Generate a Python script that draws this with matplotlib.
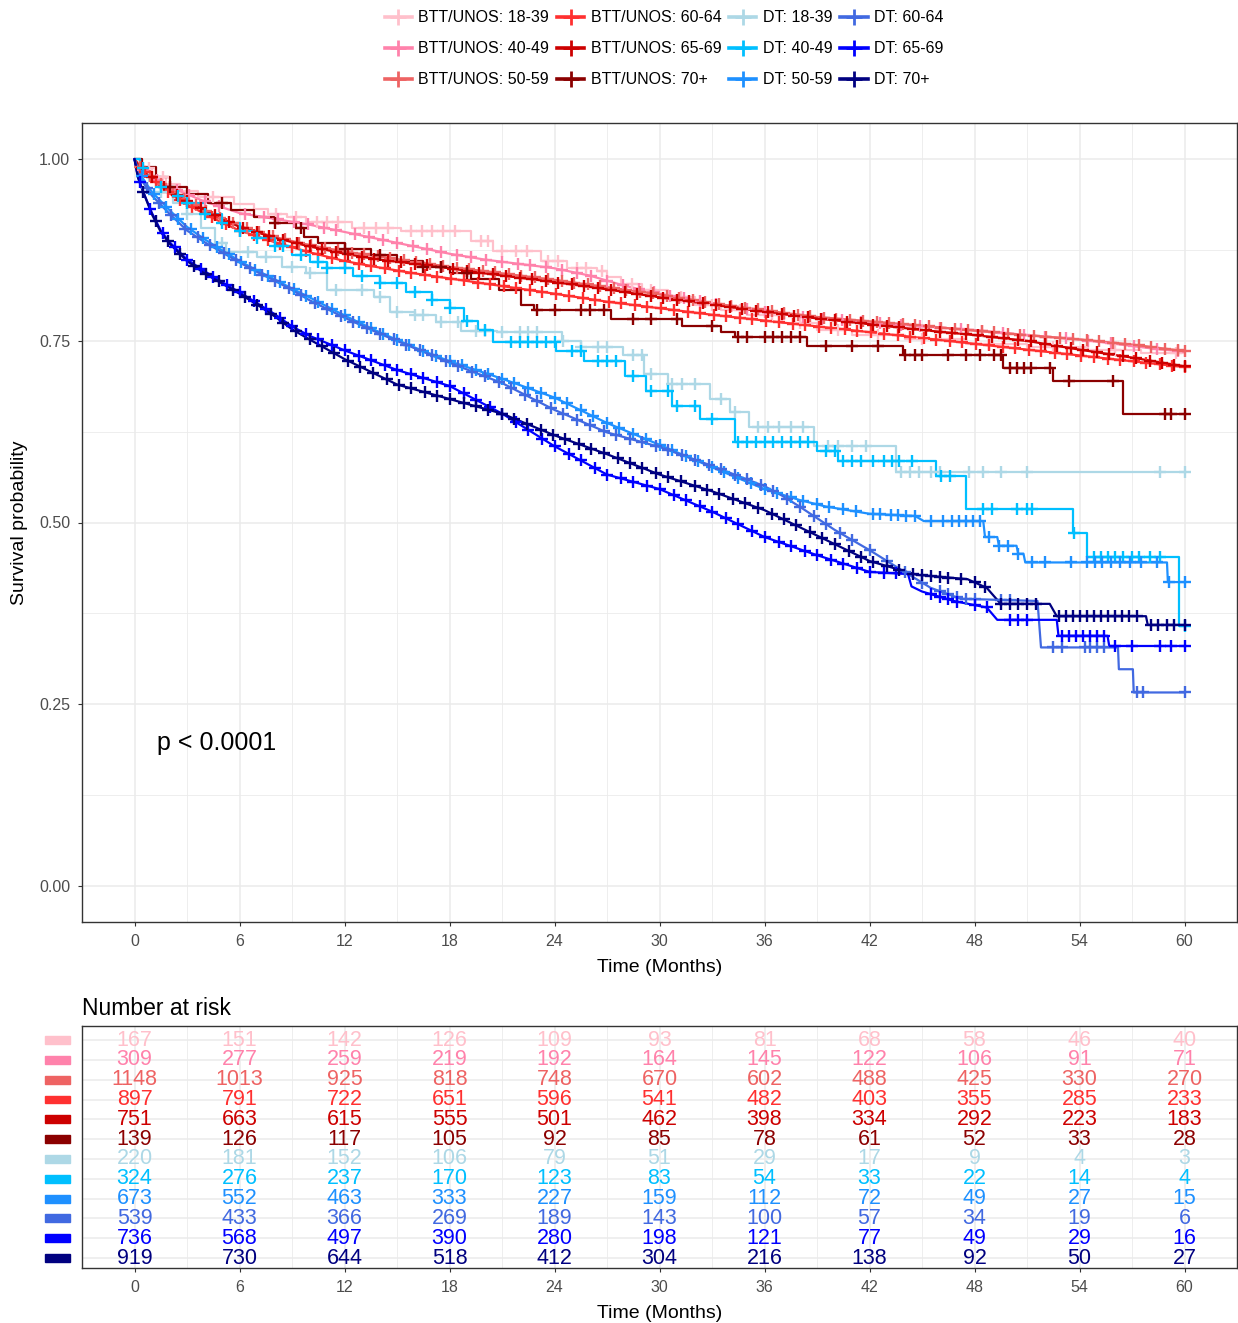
import numpy as np
import matplotlib
matplotlib.use("Agg")
import matplotlib.pyplot as plt
from matplotlib.lines import Line2D
from matplotlib.patches import Rectangle
import matplotlib.transforms as mtransforms

plt.rcParams['font.family'] = ['Liberation Sans', 'DejaVu Sans']

# ---- groups ----
groups = ["BTT/UNOS: 18-39", "BTT/UNOS: 40-49", "BTT/UNOS: 50-59",
          "BTT/UNOS: 60-64", "BTT/UNOS: 65-69", "BTT/UNOS: 70+",
          "DT: 18-39", "DT: 40-49", "DT: 50-59", "DT: 60-64", "DT: 65-69", "DT: 70+"]
colors = ["#FFC0CB", "#FF82AB", "#EE6363", "#FF3030", "#CD0000", "#8B0000",
          "#ADD8E6", "#00BFFF", "#1E90FF", "#4169E1", "#0000FF", "#000080"]
# small groups are drawn as steps, big groups as dense curves
as_steps = [True, False, False, False, False, True, True, True, False, False, False, False]

# ---- survival curves (months, probability) ----
t_btt_1839 = [0, 0.4, 1.0, 1.8, 2.6, 3.6, 5.7, 6.8, 7.6, 8.7, 9.8, 12.4, 15.2, 19.2, 20.5, 23.2, 24.7,
              26.4, 27.0, 27.8, 29.0, 30.5, 32.0, 33.5, 35.0, 37.0, 39.0, 41.0, 44.0, 47.5, 51.0, 54.5, 57.5, 60.0]
s_btt_1839 = [1.0, 0.988, 0.976, 0.966, 0.957, 0.948, 0.939, 0.932, 0.925, 0.921, 0.914, 0.905, 0.902, 0.888,
              0.874, 0.860, 0.850, 0.846, 0.838, 0.828, 0.820, 0.810, 0.800, 0.792, 0.785, 0.775, 0.765, 0.758,
              0.752, 0.746, 0.741, 0.737, 0.733, 0.730]

t_btt_4049 = [0, 0.5, 1, 2, 3, 4, 5, 6, 8, 10, 12, 14, 16, 18, 20, 22, 24, 26, 28, 30, 33, 36, 39, 42, 45,
              48, 51, 54, 56, 58, 60]
s_btt_4049 = [1, 0.985, 0.975, 0.962, 0.952, 0.942, 0.934, 0.926, 0.918, 0.91, 0.9, 0.89, 0.88, 0.87, 0.862,
              0.856, 0.85, 0.84, 0.826, 0.815, 0.802, 0.79, 0.781, 0.775, 0.77, 0.765, 0.758, 0.752, 0.746,
              0.74, 0.735]

t_btt_big = [0, 0.3, 1, 2, 3, 4, 5, 6, 8, 10, 12, 14, 16, 18, 20, 22, 24, 27, 30, 33, 36, 39, 42, 45, 48,
             51, 54, 57, 60]
s_btt_5059 = [1, 0.99, 0.975, 0.958, 0.943, 0.93, 0.918, 0.908, 0.893, 0.882, 0.873, 0.866, 0.859, 0.852,
              0.846, 0.84, 0.834, 0.824, 0.814, 0.802, 0.792, 0.783, 0.777, 0.771, 0.764, 0.758, 0.752, 0.745, 0.736]
s_btt_6064 = [1, 0.99, 0.972, 0.953, 0.938, 0.925, 0.913, 0.902, 0.886, 0.872, 0.86, 0.851, 0.843, 0.836,
              0.829, 0.822, 0.815, 0.804, 0.795, 0.786, 0.778, 0.77, 0.762, 0.754, 0.746, 0.738, 0.73, 0.722, 0.714]
s_btt_6569 = [1, 0.99, 0.975, 0.957, 0.942, 0.93, 0.918, 0.907, 0.892, 0.88, 0.87, 0.862, 0.856, 0.85,
              0.843, 0.837, 0.831, 0.821, 0.81, 0.8, 0.79, 0.781, 0.773, 0.765, 0.758, 0.75, 0.738, 0.727, 0.715]

t_btt_70 = [0, 0.4, 1.2, 2.0, 3.0, 4.2, 5.5, 6.8, 8.0, 9.2, 9.7, 10.5, 12.0, 13.5, 15.0, 16.5, 18.0, 19.2,
            20.8, 22.1, 22.8, 27.2, 31.3, 33.5, 34.3, 38.4, 43.9, 49.6, 52.5, 56.5, 60.0]
s_btt_70 = [1, 0.99, 0.975, 0.962, 0.952, 0.94, 0.93, 0.92, 0.912, 0.905, 0.893, 0.885, 0.877, 0.868, 0.86,
            0.852, 0.843, 0.835, 0.82, 0.80, 0.792, 0.78, 0.771, 0.762, 0.755, 0.743, 0.73, 0.713, 0.695,
            0.649, 0.649]

t_dt_1839 = [0, 0.3, 0.8, 1.5, 2.2, 3.0, 3.8, 4.6, 5.2, 7.0, 8.4, 9.8, 11.0, 13.7, 14.6, 16.0, 17.2, 18.65,
             20.7, 24.4, 25.5, 27.9, 29.1, 30.5, 32.9, 34.05, 35.1, 38.8, 43.5, 60.0]
s_dt_1839 = [1, 0.985, 0.97, 0.955, 0.94, 0.925, 0.905, 0.885, 0.872, 0.866, 0.852, 0.843, 0.82, 0.81, 0.79,
             0.785, 0.776, 0.764, 0.762, 0.75, 0.742, 0.73, 0.704, 0.69, 0.67, 0.652, 0.631, 0.606, 0.569, 0.569]

t_dt_4049 = [0, 0.3, 0.8, 1.5, 2.2, 3.0, 4.0, 5.0, 6.0, 7.0, 8.0, 9.0, 10.0, 11.0, 12.5, 14.0, 15.5, 17.0,
             18.0, 18.8, 19.6, 20.5, 24.1, 25.7, 28.0, 29.2, 30.7, 32.3, 34.3, 39.0, 40.2, 45.8, 47.5, 53.6,
             54.4, 59.7, 60.0]
s_dt_4049 = [1, 0.988, 0.975, 0.962, 0.95, 0.94, 0.925, 0.912, 0.902, 0.892, 0.88, 0.868, 0.858, 0.85, 0.84,
             0.83, 0.818, 0.806, 0.795, 0.778, 0.765, 0.748, 0.736, 0.723, 0.702, 0.681, 0.66, 0.642, 0.611,
             0.599, 0.585, 0.564, 0.519, 0.486, 0.452, 0.358, 0.358]

t_dt_5059 = [0, 0.3, 1, 2, 3, 4, 5, 6, 7, 8, 9, 10, 12, 14, 16, 18, 21, 24, 27, 30, 33, 36, 38, 39.5, 42,
             44.6, 45.1, 48.5, 48.6, 49.3, 49.4, 50.4, 50.5, 50.8, 50.9, 59.0, 59.05, 60]
s_dt_5059 = [1, 0.98, 0.955, 0.93, 0.907, 0.89, 0.875, 0.86, 0.847, 0.835, 0.822, 0.81, 0.785, 0.762, 0.741,
             0.722, 0.698, 0.672, 0.637, 0.607, 0.576, 0.546, 0.531, 0.522, 0.512, 0.509, 0.502, 0.502, 0.48,
             0.48, 0.468, 0.468, 0.457, 0.457, 0.445, 0.445, 0.418, 0.418]

t_dt_6064 = [0, 0.3, 1, 2, 3, 4, 5, 6, 7, 8, 9, 10, 12, 14, 16, 18, 21, 24, 27, 30, 33, 36, 37, 38, 40, 42,
             44, 45.5, 47.2, 51.6, 51.8, 56.2, 56.25, 57.05, 57.1, 60]
s_dt_6064 = [1, 0.975, 0.95, 0.925, 0.902, 0.886, 0.872, 0.858, 0.845, 0.833, 0.82, 0.806, 0.782, 0.76, 0.74,
             0.72, 0.692, 0.655, 0.624, 0.604, 0.578, 0.55, 0.537, 0.522, 0.49, 0.462, 0.432, 0.41, 0.395,
             0.392, 0.328, 0.328, 0.298, 0.298, 0.266, 0.266]

t_dt_6569 = [0, 0.2, 0.5, 1, 1.5, 2, 3, 4, 5, 6, 7, 8, 9, 10, 12, 15, 18, 21, 24, 27, 30, 33, 36, 39, 42,
             44.2, 44.4, 45.0, 46.8, 48.7, 49.3, 52.7, 52.8, 55.6, 55.7, 60]
s_dt_6569 = [1, 0.975, 0.955, 0.926, 0.902, 0.886, 0.862, 0.846, 0.831, 0.817, 0.802, 0.787, 0.77, 0.757,
             0.737, 0.71, 0.688, 0.65, 0.605, 0.566, 0.546, 0.515, 0.48, 0.455, 0.432, 0.429, 0.412, 0.405,
             0.392, 0.383, 0.366, 0.366, 0.344, 0.344, 0.33, 0.33]

t_dt_70 = [0, 0.2, 0.5, 1, 1.5, 2, 3, 4, 5, 6, 7, 8, 9, 10, 12, 15, 18, 21, 24, 27, 30, 33, 36, 39, 42,
           44.7, 47.6, 48.7, 49.5, 52.3, 52.7, 57.8, 57.9, 60]
s_dt_70 = [1, 0.975, 0.955, 0.924, 0.9, 0.884, 0.86, 0.843, 0.829, 0.815, 0.8, 0.784, 0.766, 0.752, 0.725,
           0.69, 0.67, 0.65, 0.62, 0.594, 0.566, 0.543, 0.517, 0.482, 0.447, 0.428, 0.422, 0.41, 0.388,
           0.388, 0.371, 0.371, 0.359, 0.359]

curve_t = [t_btt_1839, t_btt_4049, t_btt_big, t_btt_big, t_btt_big, t_btt_70,
           t_dt_1839, t_dt_4049, t_dt_5059, t_dt_6064, t_dt_6569, t_dt_70]
curve_s = [s_btt_1839, s_btt_4049, s_btt_5059, s_btt_6064, s_btt_6569, s_btt_70,
           s_dt_1839, s_dt_4049, s_dt_5059, s_dt_6064, s_dt_6569, s_dt_70]

# ---- censoring times (months) ----
cens_btt_1839 = [0.8, 1.6, 4.5, 8.1, 9.2, 10.4, 11.0, 11.6, 13.1, 13.8, 14.5, 15.8, 16.4, 17.0, 17.6, 18.3,
                 19.8, 20.2, 21.0, 21.8, 22.4, 23.6, 24.2, 25.3, 25.8, 26.7, 28.4, 29.5, 31.2, 33.0, 34.6,
                 36.4, 38.0, 40.2, 42.5, 45.0, 48.8, 52.5, 56.0, 59.5]
cens_btt_4049 = [0.5, 1.3, 2.4, 3.1, 4.0, 4.8, 6.3, 7.4, 8.2, 9.1, 9.9, 10.8, 11.5, 12.6, 13.4, 14.2, 15.0,
                 15.9, 16.7, 17.5, 18.4, 19.2, 20.1, 21.0, 21.9, 22.6, 23.5, 24.4, 25.3, 26.1, 27.0, 27.9,
                 28.8, 29.7, 30.6, 31.4, 32.3, 33.2, 34.1, 35.0, 36.0, 37.1, 38.2, 39.3, 40.4, 41.5, 42.6,
                 43.8, 44.9, 46.0, 47.2, 48.4, 49.6, 50.8, 52.0, 53.2, 54.5, 55.8, 57.1, 58.4, 59.6]
cens_btt_5059 = [0.3, 0.9, 1.5, 2.2, 2.8, 3.5, 4.1, 4.9, 5.6, 6.4, 7.1, 7.9, 8.6, 9.4, 10.1, 10.9, 11.6,
                 12.4, 13.1, 13.9, 14.6, 15.4, 16.1, 16.9, 17.6, 18.4, 19.1, 19.9, 20.6, 21.4, 22.1, 22.9,
                 23.6, 24.4, 25.1, 25.9, 26.6, 27.4, 28.1, 28.9, 29.6, 30.4, 31.1, 31.9, 32.6, 33.4, 34.1,
                 34.9, 35.6, 36.4, 37.1, 37.9, 38.6, 39.4, 40.1, 40.9, 41.6, 42.4, 43.1, 43.9, 44.6, 45.4,
                 46.1, 46.9, 47.6, 48.4, 49.1, 49.9, 50.6, 51.4, 52.1, 52.9, 53.6, 54.4, 55.1, 55.9, 56.6,
                 57.4, 58.1, 58.9, 59.6, 60.0]
cens_btt_6064 = [0.6, 1.2, 1.9, 2.6, 3.3, 4.4, 5.2, 6.0, 6.8, 7.6, 8.3, 9.0, 9.8, 10.5, 11.3, 12.0, 12.8,
                 13.5, 14.3, 15.1, 15.8, 16.6, 17.3, 18.1, 18.8, 19.6, 20.3, 21.1, 21.8, 22.6, 23.3, 24.1,
                 24.8, 25.6, 26.3, 27.1, 27.8, 28.6, 29.3, 30.1, 30.8, 31.6, 32.3, 33.1, 33.8, 34.6, 35.3,
                 36.1, 36.8, 37.6, 38.3, 39.1, 39.8, 40.6, 41.3, 42.1, 42.8, 43.6, 44.3, 45.1, 45.8, 46.6,
                 47.3, 48.1, 48.8, 49.6, 50.3, 51.1, 51.8, 52.6, 53.3, 54.1, 54.8, 55.6, 56.3, 57.1, 57.8,
                 58.6, 59.3, 60.0]
cens_btt_6569 = [0.4, 1.0, 1.7, 2.4, 3.0, 3.8, 4.6, 5.4, 6.2, 7.0, 7.7, 8.5, 9.3, 10.0, 10.7, 11.5, 12.2,
                 13.0, 13.7, 14.5, 15.2, 16.0, 16.7, 17.5, 18.2, 19.0, 19.7, 20.5, 21.2, 22.0, 22.7, 23.5,
                 24.2, 25.0, 25.7, 26.5, 27.2, 28.0, 28.7, 29.5, 30.2, 31.0, 31.7, 32.5, 33.2, 34.0, 34.7,
                 35.5, 36.2, 37.0, 37.7, 38.5, 39.2, 40.0, 40.7, 41.5, 42.2, 43.0, 43.7, 44.5, 45.2, 46.0,
                 46.7, 47.5, 48.2, 49.0, 49.7, 50.5, 51.2, 52.0, 52.7, 53.5, 54.2, 55.0, 55.7, 56.5, 57.2,
                 58.0, 58.7, 59.4, 60.0]
cens_btt_70 = [2.0, 5.0, 8.0, 9.5, 12.0, 14.0, 16.5, 17.5, 19.0, 23.0, 24.0, 25.5, 26.0, 26.8, 28.5, 29.5,
               31.0, 33.0, 34.5, 35.0, 36.0, 36.5, 37.0, 37.5, 38.0, 39.5, 41.0, 42.5, 44.0, 44.6, 45.0,
               46.5, 47.5, 48.3, 49.1, 49.5, 50.0, 50.4, 50.8, 51.2, 52.3, 53.4, 55.9, 58.9, 59.2, 60.0]
cens_dt_1839 = [1.5, 3.0, 5.0, 6.5, 7.5, 9.0, 10.0, 11.5, 13.0, 14.0, 15.0, 16.0, 16.5, 17.5, 18.5, 19.5,
                20.0, 21.0, 22.0, 22.5, 23.0, 24.5, 25.5, 26.5, 27.0, 28.5, 29.0, 29.5, 30.7, 31.3, 32.0,
                33.5, 34.3, 35.6, 36.2, 36.8, 37.5, 38.2, 39.6, 40.2, 41.0, 41.8, 43.8, 44.3, 44.8, 45.5,
                46.0, 47.7, 48.5, 49.5, 51.0, 58.6, 60.0]
cens_dt_4049 = [0.5, 1.5, 2.5, 3.0, 4.0, 5.0, 6.0, 7.0, 8.0, 8.5, 9.5, 10.5, 11.0, 12.0, 13.0, 14.0, 15.0,
                16.0, 17.0, 18.0, 19.0, 20.0, 21.5, 22.0, 22.5, 23.0, 23.5, 24.0, 25.0, 25.5, 26.5, 27.0,
                27.5, 28.5, 29.5, 30.5, 31.0, 32.0, 33.0, 34.5, 35.0, 35.5, 36.0, 36.5, 37.0, 37.5, 38.0,
                38.5, 39.5, 40.0, 40.5, 41.0, 41.5, 42.2, 42.8, 43.3, 43.7, 44.4, 46.1, 46.6, 48.5, 49.0,
                50.4, 51.0, 51.3, 53.7, 54.8, 55.2, 55.6, 56.0, 56.5, 57.0, 57.4, 58.0, 58.6, 60.0]
cens_dt_5059 = [0.4, 1.1, 1.8, 2.5, 3.2, 3.9, 4.7, 5.4, 6.1, 6.9, 7.6, 8.3, 9.1, 9.8, 10.5, 11.3, 12.0,
                12.8, 13.5, 14.2, 15.0, 15.7, 16.5, 17.2, 18.0, 18.7, 19.5, 20.2, 21.0, 21.7, 22.5, 23.2,
                24.0, 24.7, 25.5, 26.2, 27.0, 27.7, 28.5, 29.2, 30.0, 30.7, 31.5, 32.2, 33.0, 33.7, 34.5,
                35.2, 36.0, 36.7, 37.5, 38.2, 39.0, 39.7, 40.5, 41.2, 42.2, 42.6, 43.2, 43.6, 44.1, 44.6,
                45.5, 46.2, 46.7, 47.1, 47.5, 47.9, 48.3, 48.8, 49.4, 49.9, 50.5, 51.3, 52.0, 53.5, 54.4,
                54.9, 55.3, 55.8, 56.3, 56.9, 57.5, 58.4, 59.1, 60.0]
cens_dt_6064 = [0.7, 1.4, 2.1, 2.9, 3.6, 4.3, 5.1, 5.8, 6.6, 7.3, 8.0, 8.8, 9.5, 10.3, 11.0, 11.8, 12.5,
                13.3, 14.0, 14.8, 15.5, 16.3, 17.0, 17.8, 18.5, 19.3, 20.0, 20.8, 21.5, 22.3, 23.0, 23.8,
                24.5, 25.3, 26.0, 26.8, 27.5, 28.3, 29.0, 29.8, 30.5, 31.3, 32.0, 32.8, 33.5, 34.3, 35.0,
                35.8, 36.5, 37.3, 38.0, 38.8, 39.5, 40.3, 41.0, 42.0, 43.0, 44.0, 45.0, 46.0, 46.5, 47.0,
                47.5, 48.0, 49.5, 50.0, 52.5, 53.0, 54.3, 54.6, 55.0, 55.4, 57.3, 57.6, 60.0]
cens_dt_6569 = [0.3, 0.9, 1.6, 2.3, 3.0, 3.8, 4.5, 5.3, 6.0, 6.8, 7.5, 8.3, 9.0, 9.8, 10.5, 11.3, 12.0,
                12.8, 13.5, 14.3, 15.0, 15.8, 16.5, 17.3, 18.0, 18.8, 19.5, 20.3, 21.0, 21.8, 22.5, 23.3,
                24.0, 24.8, 25.5, 26.3, 27.0, 27.8, 28.5, 29.3, 30.0, 30.8, 31.5, 32.3, 33.0, 33.8, 34.5,
                35.3, 36.0, 36.8, 37.5, 38.3, 39.0, 39.8, 40.5, 41.3, 42.0, 42.8, 43.5, 45.5, 46.0, 46.5,
                47.0, 48.0, 48.7, 50.0, 50.5, 51.0, 53.0, 53.4, 53.8, 54.2, 54.6, 55.0, 55.4, 56.0, 57.0,
                58.6, 59.2, 60.0]
cens_dt_70 = [0.5, 1.2, 1.9, 2.6, 3.4, 4.1, 4.8, 5.6, 6.3, 7.0, 7.8, 8.5, 9.2, 10.0, 10.7, 11.4, 12.2,
              12.9, 13.6, 14.4, 15.1, 15.8, 16.6, 17.3, 18.0, 18.8, 19.5, 20.2, 21.0, 21.7, 22.4, 23.2,
              23.9, 24.6, 25.4, 26.1, 26.8, 27.6, 28.3, 29.0, 29.8, 30.5, 31.2, 32.0, 32.7, 33.4, 34.2,
              34.9, 35.6, 36.4, 37.1, 37.8, 38.6, 39.3, 40.0, 40.8, 41.5, 42.2, 43.0, 43.7, 44.5, 45.0,
              45.5, 46.0, 46.5, 47.2, 48.0, 48.6, 49.5, 50.0, 50.5, 51.0, 51.5, 52.8, 53.2, 53.6, 54.0,
              54.4, 54.8, 55.2, 55.6, 56.0, 56.4, 56.8, 57.3, 58.1, 58.5, 59.0, 59.4, 60.0]
censor_times = [cens_btt_1839, cens_btt_4049, cens_btt_5059, cens_btt_6064, cens_btt_6569, cens_btt_70,
                cens_dt_1839, cens_dt_4049, cens_dt_5059, cens_dt_6064, cens_dt_6569, cens_dt_70]

# ---- number at risk ----
risk_times = [0, 6, 12, 18, 24, 30, 36, 42, 48, 54, 60]
risk_counts = [
    [167, 151, 142, 126, 109, 93, 81, 68, 58, 46, 40],
    [309, 277, 259, 219, 192, 164, 145, 122, 106, 91, 71],
    [1148, 1013, 925, 818, 748, 670, 602, 488, 425, 330, 270],
    [897, 791, 722, 651, 596, 541, 482, 403, 355, 285, 233],
    [751, 663, 615, 555, 501, 462, 398, 334, 292, 223, 183],
    [139, 126, 117, 105, 92, 85, 78, 61, 52, 33, 28],
    [220, 181, 152, 106, 79, 51, 29, 17, 9, 4, 3],
    [324, 276, 237, 170, 123, 83, 54, 33, 22, 14, 4],
    [673, 552, 463, 333, 227, 159, 112, 72, 49, 27, 15],
    [539, 433, 366, 269, 189, 143, 100, 57, 34, 19, 6],
    [736, 568, 497, 390, 280, 198, 121, 77, 49, 29, 16],
    [919, 730, 644, 518, 412, 304, 216, 138, 92, 50, 27],
]

W, H = 1238, 1323
fig = plt.figure(figsize=(W / 100, H / 100), dpi=100)
ax = fig.add_axes([82 / W, 1 - 922 / H, 1155 / W, 799 / H])
axr = fig.add_axes([82 / W, 1 - 1268 / H, 1155 / W, 242 / H])

tick_col = '#4D4D4D'
grid_col = '#EBEBEB'


def style_panel(a):
    a.set_facecolor('white')
    for sp in a.spines.values():
        sp.set_color('#333333')
        sp.set_linewidth(1.0)
    a.set_axisbelow(True)
    a.tick_params(axis='both', which='major', length=3, width=0.8, color='#333333',
                  labelcolor=tick_col, labelsize=11.5, pad=5.5)
    a.tick_params(axis='both', which='minor', length=0)


def surv_at(ts, ss, steps, x):
    ts = np.asarray(ts)
    ss = np.asarray(ss)
    if steps:
        idx = np.searchsorted(ts, x, side='right') - 1
        return ss[np.clip(idx, 0, len(ss) - 1)]
    return np.interp(x, ts, ss)


# ---- main KM panel ----
style_panel(ax)
handles = []
for g, col, st, ts, ss, ct in zip(groups, colors, as_steps, curve_t, curve_s, censor_times):
    ax.plot(ts, ss, color=col, lw=1.6, drawstyle='steps-post' if st else 'default', zorder=2)
    cy = surv_at(ts, ss, st, np.asarray(ct))
    ax.plot(ct, cy, linestyle='none', marker='+', ms=9, mew=1.7, color=col, zorder=3)
    handles.append(Line2D([], [], color=col, lw=2.6, marker='+', ms=11, mew=2.0, label=g))

ax.set_xlim(-3, 63)
ax.set_ylim(-0.05, 1.05)
ax.set_xticks(risk_times)
ax.set_xticks([3, 9, 15, 21, 27, 33, 39, 45, 51, 57], minor=True)
ax.set_yticks([0, 0.25, 0.5, 0.75, 1.0])
ax.set_yticks([0.125, 0.375, 0.625, 0.875], minor=True)
ax.set_yticklabels(['0.00', '0.25', '0.50', '0.75', '1.00'])
ax.grid(True, which='major', color=grid_col, lw=1.1)
ax.grid(True, which='minor', color=grid_col, lw=0.6)
ax.set_xlabel('Time (Months)', fontsize=14, color='black', labelpad=7)
ax.set_ylabel('Survival probability', fontsize=14, color='black', labelpad=8)
ax.text(1.3, 0.196, 'p < 0.0001', fontsize=18, va='center', ha='left', color='black')

fig.legend(handles=handles, loc='upper center', bbox_to_anchor=(664 / W, 1.0), ncol=4,
           frameon=False, fontsize=11.5, handlelength=1.7, handletextpad=0.4,
           columnspacing=0.5, labelspacing=1.0, borderaxespad=0.25)

# ---- risk table ----
style_panel(axr)
n = len(groups)
for i, (col, row) in enumerate(zip(colors, risk_counts)):
    for tt, v in zip(risk_times, row):
        axr.text(tt, i, str(v), color=col, fontsize=15.5, ha='center', va='center')
axr.set_xlim(-3, 63)
axr.set_ylim(n - 0.5, -0.71)
axr.set_xticks(risk_times)
axr.set_xticks([3, 9, 15, 21, 27, 33, 39, 45, 51, 57], minor=True)
axr.set_yticks(range(n))
axr.set_yticks(np.arange(n) - 0.5, minor=True)
axr.set_yticklabels([])
axr.tick_params(axis='y', which='major', length=0)
axr.grid(True, which='major', color=grid_col, lw=1.1)
axr.grid(True, which='minor', axis='x', color=grid_col, lw=0.6)
axr.set_xlabel('Time (Months)', fontsize=14, color='black', labelpad=7)
axr.set_title('Number at risk', fontsize=16.5, loc='left', pad=8, x=0.0)

trans = mtransforms.blended_transform_factory(axr.transAxes, axr.transData)
for i, col in enumerate(colors):
    axr.add_patch(Rectangle((-0.032, i - 0.2), 0.022, 0.4, transform=trans,
                            color=col, clip_on=False))

fig.savefig('out.png', dpi=100)
